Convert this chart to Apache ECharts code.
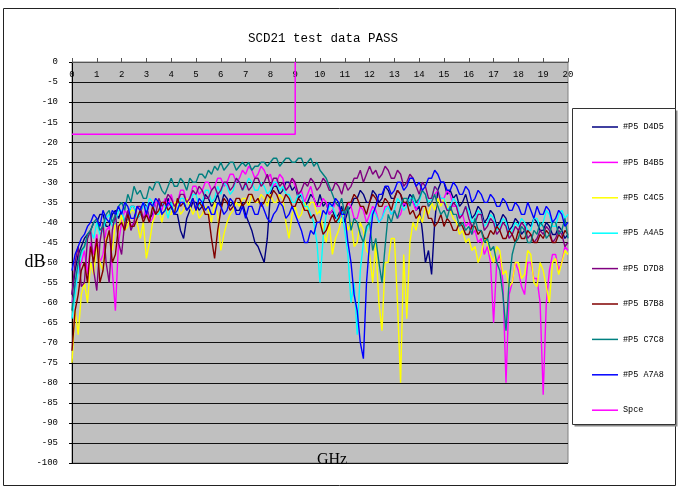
<!DOCTYPE html>
<html><head><meta charset="utf-8">
<script src="https://cdn.jsdelivr.net/npm/echarts@6/dist/echarts.min.js"></script>
<style>html,body{margin:0;padding:0;background:#fff}#c{width:679px;height:489px}</style>
</head><body><div id="c"></div>
<script>
const freqGHz = [0,0.125,0.25,0.375,0.5,0.625,0.75,0.875,1,1.125,1.25,1.375,1.5,1.625,1.75,1.875,2,2.125,2.25,2.375,2.5,2.625,2.75,2.875,3,3.125,3.25,3.375,3.5,3.625,3.75,3.875,4,4.125,4.25,4.375,4.5,4.625,4.75,4.875,5,5.125,5.25,5.375,5.5,5.625,5.75,5.875,6,6.125,6.25,6.375,6.5,6.625,6.75,6.875,7,7.125,7.25,7.375,7.5,7.625,7.75,7.875,8,8.125,8.25,8.375,8.5,8.625,8.75,8.875,9,9.125,9.25,9.375,9.5,9.625,9.75,9.875,10,10.125,10.25,10.375,10.5,10.625,10.75,10.875,11,11.125,11.25,11.375,11.5,11.625,11.75,11.875,12,12.125,12.25,12.375,12.5,12.625,12.75,12.875,13,13.125,13.25,13.375,13.5,13.625,13.75,13.875,14,14.125,14.25,14.375,14.5,14.625,14.75,14.875,15,15.125,15.25,15.375,15.5,15.625,15.75,15.875,16,16.125,16.25,16.375,16.5,16.625,16.75,16.875,17,17.125,17.25,17.375,17.5,17.625,17.75,17.875,18,18.125,18.25,18.375,18.5,18.625,18.75,18.875,19,19.125,19.25,19.375,19.5,19.625,19.75,19.875,20];

const seriesNames = ['#P5 D4D5','#P5 B4B5','#P5 C4C5','#P5 A4A5','#P5 D7D8','#P5 B7B8','#P5 C7C8','#P5 A7A8'];
const seriesColors = ['#000080','#ff00ff','#ffff00','#00ffff','#800080','#800000','#008080','#0000ff'];

const D4D5 = [-58,-52,-48,-46,-44,-43,-42,-40, -40,-38,-38,-41,-41,-38,-37,-39, -37,-40,-39,-36,-36,-39,-38,-35, -36,-39,-38,-35,-35,-38,-37,-34, -36,-38,-38,-42,-44,-39,-37,-35, -35,-37,-36,-33,-34,-36,-35,-33, -36,-33,-34,-36,-35,-37,-37,-35, -38,-40,-42,-45,-46,-48,-50,-44, -33,-31,-31,-33,-32,-30,-30,-32, -31,-34,-33,-36,-35,-33,-34,-36, -33,-36,-35,-38,-37,-39,-38,-36, -40,-37,-36,-34,-34,-32,-33,-35, -35,-32,-33,-35,-34,-31,-32,-34, -34,-32,-33,-36,-35,-33,-34,-37, -36,-42,-50,-47,-53,-40,-32,-30, -30,-33,-32,-34,-33,-36,-35,-33, -36,-39,-38,-36,-37,-40,-39,-37, -38,-41,-40,-38,-39,-42,-41,-39, -40,-43,-42,-40,-41,-39,-40,-42, -42,-40,-41,-43,-43,-41,-42,-44, -43];
const B4B5 = [-60,-56,-52,-50,-47,-53,-45,-48, -43,-50,-48,-42,-41,-52,-62,-45, -40,-37,-38,-41,-40,-36,-37,-39, -36,-40,-39,-35,-35,-37,-34,-36, -33,-36,-35,-32,-32,-35,-34,-31, -31,-33,-32,-30,-30,-32,-31,-29, -29,-31,-30,-28,-28,-30,-29,-27, -28,-26,-27,-29,-28,-26,-27,-29, -28,-31,-30,-28,-29,-32,-31,-29, -31,-33,-32,-35,-33,-31,-34,-36, -36,-34,-35,-38,-37,-35,-36,-39, -38,-35,-36,-39,-39,-36,-37,-40, -38,-36,-37,-40,-39,-36,-36,-38, -37,-39,-38,-35,-36,-34,-35,-37, -34,-32,-33,-36,-35,-33,-32,-34, -34,-32,-33,-36,-36,-39,-38,-41, -40,-43,-42,-45,-44,-48,-46,-50, -65,-50,-48,-55,-80,-58,-55,-50, -52,-56,-58,-50,-50,-54,-54,-60, -83,-60,-52,-48,-48,-52,-50,-46, -47];
const C4C5 = [-75,-62,-68,-58,-55,-60,-50,-53, -45,-50,-52,-44,-43,-47,-40,-42, -38,-42,-41,-37,-37,-40,-44,-40, -49,-45,-40,-38,-37,-40,-36,-38, -38,-35,-35,-38,-37,-34,-36,-38, -36,-39,-38,-36,-37,-40,-35,-38, -47,-43,-40,-38,-37,-35,-36,-34, -34,-36,-33,-35,-35,-33,-34,-36, -33,-35,-35,-33,-34,-40,-44,-38, -36,-39,-38,-35,-37,-35,-35,-38, -37,-42,-45,-40,-48,-44,-42,-39, -38,-42,-40,-46,-45,-40,-42,-47, -48,-55,-45,-60,-67,-50,-50,-44, -44,-60,-80,-48,-64,-45,-40,-42, -38,-40,-36,-38,-35,-37,-34,-36, -34,-36,-37,-39,-40,-43,-42,-45, -44,-47,-46,-50,-48,-44,-45,-48, -50,-46,-47,-53,-52,-56,-55,-50, -50,-54,-53,-47,-48,-55,-56,-50, -52,-56,-60,-50,-49,-53,-50,-47, -48];
const A4A5 = [-64,-58,-52,-48,-46,-44,-42,-44, -40,-43,-42,-39,-38,-41,-40,-37, -37,-40,-39,-36,-36,-39,-38,-35, -37,-34,-35,-38,-38,-35,-36,-39, -35,-38,-37,-34,-34,-37,-36,-33, -33,-36,-35,-32,-32,-35,-34,-31, -33,-30,-31,-33,-32,-29,-30,-32, -31,-29,-30,-32,-32,-30,-31,-33, -32,-30,-30,-32,-31,-33,-33,-35, -35,-33,-33,-36,-36,-38,-40,-45, -55,-44,-38,-36,-36,-38,-40,-37, -42,-48,-60,-55,-68,-52,-45,-42, -40,-37,-38,-40,-39,-37,-36,-38, -37,-34,-35,-37,-36,-34,-34,-36, -35,-32,-33,-35,-34,-31,-32,-34, -34,-37,-36,-34,-35,-38,-38,-36, -37,-40,-39,-37,-38,-41,-40,-38, -39,-42,-41,-39,-40,-43,-42,-40, -41,-39,-40,-42,-42,-39,-39,-41, -40,-37,-38,-41,-41,-38,-37,-39, -38];
const D7D8 = [-58,-50,-46,-56,-55,-44,-42,-52, -57,-45,-40,-50,-55,-42,-38,-45, -48,-40,-37,-42,-40,-36,-36,-39, -38,-35,-36,-38,-34,-36,-35,-33, -34,-36,-35,-33,-33,-35,-34,-32, -33,-31,-32,-34,-34,-32,-31,-33, -32,-30,-30,-32,-31,-29,-30,-32, -30,-32,-31,-29,-29,-31,-30,-28, -31,-29,-29,-31,-30,-32,-31,-29, -30,-33,-32,-30,-31,-29,-30,-32, -31,-29,-30,-32,-32,-30,-31,-33, -30,-32,-31,-29,-29,-27,-30,-28, -26,-28,-27,-29,-28,-26,-27,-29, -29,-27,-28,-31,-30,-28,-29,-31, -33,-30,-31,-34,-34,-31,-32,-35, -35,-37,-37,-35,-36,-39,-38,-36, -39,-41,-40,-38,-38,-42,-41,-39, -40,-43,-42,-40,-41,-44,-43,-41, -42,-40,-41,-44,-43,-45,-44,-42, -43,-41,-42,-45,-44,-42,-43,-46, -45];
const B7B8 = [-72,-62,-58,-52,-50,-55,-46,-50, -44,-55,-52,-45,-42,-50,-48,-41, -40,-42,-38,-41,-41,-39,-37,-40, -38,-40,-36,-38,-37,-35,-35,-37, -36,-38,-34,-36,-35,-37,-36,-34, -37,-35,-36,-38,-38,-44,-49,-42, -37,-34,-35,-37,-36,-34,-34,-36, -35,-33,-33,-35,-34,-36,-35,-33, -34,-32,-33,-35,-35,-33,-34,-36, -36,-34,-35,-37,-37,-39,-38,-40, -40,-43,-42,-40,-38,-40,-39,-37, -37,-35,-35,-33,-34,-36,-36,-38, -35,-33,-34,-36,-36,-34,-35,-37, -34,-32,-33,-35,-35,-38,-37,-39, -38,-36,-36,-39,-39,-41,-40,-38, -41,-39,-40,-42,-42,-40,-41,-43, -43,-41,-41,-43,-42,-44,-44,-42, -43,-41,-42,-44,-44,-42,-43,-45, -42,-44,-44,-42,-43,-45,-45,-43, -44,-42,-43,-45,-45,-43,-44,-42, -43];
const C7C8 = [-62,-55,-50,-47,-46,-43,-42,-40, -39,-42,-41,-38,-37,-40,-38,-36, -35,-37,-33,-35,-31,-33,-32,-34, -34,-31,-32,-30,-30,-32,-33,-31, -29,-31,-31,-29,-30,-32,-29,-30, -30,-28,-28,-29,-27,-28,-26,-27, -25,-27,-26,-25,-25,-27,-26,-25, -26,-25,-27,-26,-26,-25,-25,-26, -25,-24,-24,-26,-25,-24,-24,-25, -25,-24,-24,-26,-25,-24,-26,-25, -27,-28,-29,-31,-33,-35,-36,-34, -38,-36,-42,-39,-40,-43,-45,-41, -40,-47,-44,-50,-55,-46,-38,-40, -37,-39,-36,-34,-34,-36,-33,-35, -34,-32,-33,-36,-35,-33,-36,-38, -37,-39,-36,-38,-38,-41,-40,-42, -41,-43,-39,-42,-42,-45,-44,-47, -46,-50,-52,-58,-67,-55,-48,-45, -44,-41,-42,-45,-45,-42,-43,-40, -41,-44,-43,-40,-40,-43,-42,-39, -44];
const A7A8 = [-52,-48,-46,-44,-43,-41,-40,-38, -39,-41,-37,-39,-40,-37,-38,-36, -38,-35,-36,-39,-39,-36,-37,-35, -38,-35,-36,-34,-35,-38,-37,-35, -36,-38,-37,-35,-35,-37,-36,-34, -37,-34,-35,-37,-36,-38,-38,-35, -36,-38,-37,-34,-35,-38,-38,-36, -39,-36,-36,-38,-38,-35,-37,-39, -40,-38,-37,-35,-36,-39,-38,-36, -38,-40,-42,-45,-45,-42,-43,-40, -40,-37,-38,-35,-36,-34,-35,-38, -38,-45,-50,-58,-62,-70,-74,-55, -45,-38,-36,-33,-33,-31,-31,-33, -32,-30,-30,-32,-31,-29,-29,-31, -30,-32,-31,-29,-29,-27,-28,-30, -30,-32,-32,-30,-31,-33,-33,-31, -32,-35,-34,-32,-33,-35,-35,-33, -34,-36,-36,-34,-35,-37,-37,-35, -36,-38,-38,-35,-37,-39,-36,-38, -38,-36,-37,-40,-39,-37,-38,-41, -40];
const seriesValues = [D4D5,B4B5,C4C5,A4A5,D7D8,B7B8,C7C8,A7A8];

const specName = 'Spce';
const specX = [0, 9, 9];
const specY = [-18, -18, 0];

const xTicks = {min: 0, max: 20, step: 1};
const yTicks = {min: -100, max: 0, step: 5};

const series = seriesNames.map((n, k) => ({
  name: n, type: 'line', symbol: 'none', z: 2 + k,
  lineStyle: {width: 1.4, color: seriesColors[k]}, itemStyle: {color: seriesColors[k]},
  data: freqGHz.map((f, i) => [f, seriesValues[k][i]])
}));
series.push({
  name: specName, type: 'line', symbol: 'none', z: 20,
  lineStyle: {width: 1.5, color: '#ff00ff'}, itemStyle: {color: '#ff00ff'},
  data: specX.map((x, i) => [x, specY[i]])
});

const chart = echarts.init(document.getElementById('c'));
chart.setOption({
  animation: false,
  backgroundColor: '#fff',
  title: {text: 'SCD21 test data PASS', left: 318, top: 27, textAlign: 'center',
    textStyle: {fontFamily: 'Liberation Mono', fontSize: 12.5, fontWeight: 'normal', color: '#000'}},
  grid: {left: 72, right: 111, top: 62, bottom: 26, show: true, backgroundColor: '#c0c0c0', borderColor: '#808080', borderWidth: 1},
  xAxis: {type: 'value', position: 'top', min: xTicks.min, max: xTicks.max, interval: xTicks.step,
    axisLine: {onZero: false, lineStyle: {color: '#555', width: 1}},
    axisTick: {inside: false, length: 4, lineStyle: {color: '#555'}},
    axisLabel: {inside: true, margin: 8, fontSize: 9, color: '#000', fontFamily: 'Liberation Mono'},
    splitLine: {show: false}},
  yAxis: {type: 'value', min: yTicks.min, max: yTicks.max, interval: yTicks.step,
    axisLine: {show: true, lineStyle: {color: '#000', width: 1}},
    axisTick: {show: true, length: 3, lineStyle: {color: '#000'}},
    axisLabel: {margin: 14, fontSize: 9, color: '#000', fontFamily: 'Liberation Mono'},
    splitLine: {show: true, lineStyle: {color: '#111', width: 1}}},
  legend: {orient: 'vertical', left: 592, top: 122.5, padding: 0, icon: 'rect', itemWidth: 26, itemHeight: 1.5, itemGap: 26.4, z: 10,
    textStyle: {fontFamily: 'Liberation Mono', fontSize: 8.5, color: '#000'},
    data: seriesNames.concat([specName])},
  graphic: [
    {type: 'rect', z: -10, silent: true, shape: {x: 3.5, y: 8.5, width: 672, height: 477}, style: {fill: null, stroke: '#222', lineWidth: 1}},
    {type: 'rect', z: 1, silent: true, shape: {x: 574.5, y: 110.5, width: 103, height: 316}, style: {fill: '#888', stroke: null}},
    {type: 'rect', z: 1, silent: true, shape: {x: 572.5, y: 108.5, width: 103, height: 316}, style: {fill: '#fff', stroke: '#333', lineWidth: 1}},
    {type: 'text', z: 5, silent: true, x: 35, y: 262, style: {text: 'dB', fontFamily: 'Liberation Serif', fontSize: 18, fill: '#000', align: 'center', verticalAlign: 'middle'}},
    {type: 'text', z: 5, silent: true, x: 332, y: 460, style: {text: 'GHz', fontFamily: 'Liberation Serif', fontSize: 16, fill: '#000', align: 'center', verticalAlign: 'middle'}}
  ],
  series: series
});
</script></body></html>
